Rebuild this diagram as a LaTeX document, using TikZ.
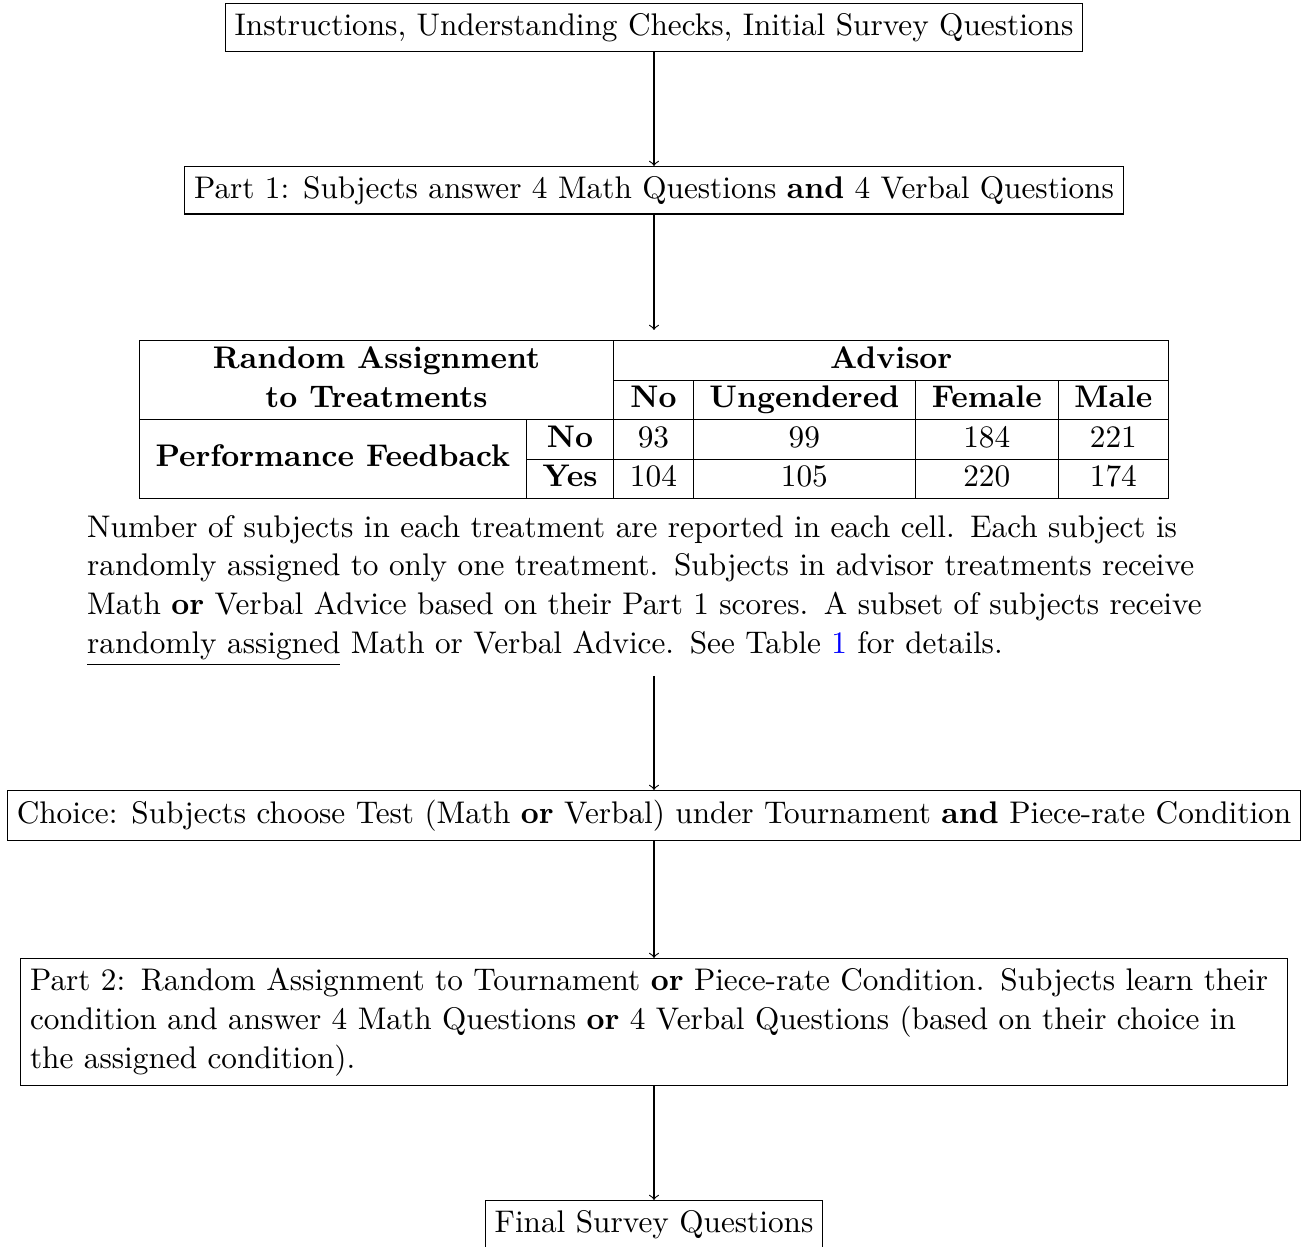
\documentclass[tikz,border=0pt]{standalone}
\usepackage{multirow}
\usepackage{xcolor}
\begin{document}
\begin{tikzpicture}[x=0.3502pt,y=-0.3502pt,
  every node/.style={font=\fontsize{10.95}{13.6}\selectfont},
  box/.style={draw, inner sep=0.3333em},
  arr/.style={->}]
\useasboundingbox (0,0) rectangle (1305,1247);
\node[box, anchor=north] (b1) at (654,3) {Instructions, Understanding Checks, Initial Survey Questions};
\node[box, anchor=north] (b2) at (654,166) {Part 1: Subjects answer 4 Math Questions \textbf{and} 4 Verbal Questions};
\node[anchor=north, inner sep=0.3333em] (tab) at (654,330) {%
\setlength{\tabcolsep}{5.7pt}%
\begin{tabular}{|c|c|c|c|c|c|}
\hline
\multicolumn{2}{|c|}{\textbf{Random Assignment}} & \multicolumn{4}{c|}{\textbf{Advisor}}\\
\cline{3-6}
\multicolumn{2}{|c|}{\textbf{to Treatments}} & \textbf{No} & \textbf{Ungendered} & \textbf{Female} & \textbf{Male}\\
\hline
\multirow{2}{*}{\textbf{Performance Feedback}} & \textbf{No} & 93 & 99 & 184 & 221\\
\cline{2-6}
 & \textbf{Yes} & 104 & 105 & 220 & 174\\
\hline
\end{tabular}};
\node[anchor=north, inner sep=0.3333em, text width=397pt, align=left] (note) at (654,505) {Number of subjects in each treatment are reported in each cell. Each subject is\\
randomly assigned to only one treatment. Subjects in advisor treatments receive\\
Math \textbf{or} Verbal Advice based on their Part 1 scores. A subset of subjects receive\\
\underline{randomly assigned} Math or Verbal Advice. See Table \textcolor{blue}{1} for details.};
\node[box, anchor=north] (b4) at (654,790) {Choice: Subjects choose Test (Math \textbf{or} Verbal) under Tournament \textbf{and} Piece-rate Condition};
\node[box, anchor=north, text width=437pt, align=left] (b5) at (654,958) {Part 2: Random Assignment to Tournament \textbf{or} Piece-rate Condition. Subjects learn their\\
condition and answer 4 Math Questions \textbf{or} 4 Verbal Questions (based on their choice in\\
the assigned condition).};
\node[box, anchor=north] (b6) at (654,1200) {Final Survey Questions};
\draw[arr] (b1.south) -- (b2.north);
\draw[arr] (b2.south) -- (tab.north);
\draw[arr] (note.south) -- (b4.north);
\draw[arr] (b4.south) -- (b5.north);
\draw[arr] (b5.south) -- (b6.north);
\end{tikzpicture}
\end{document}
